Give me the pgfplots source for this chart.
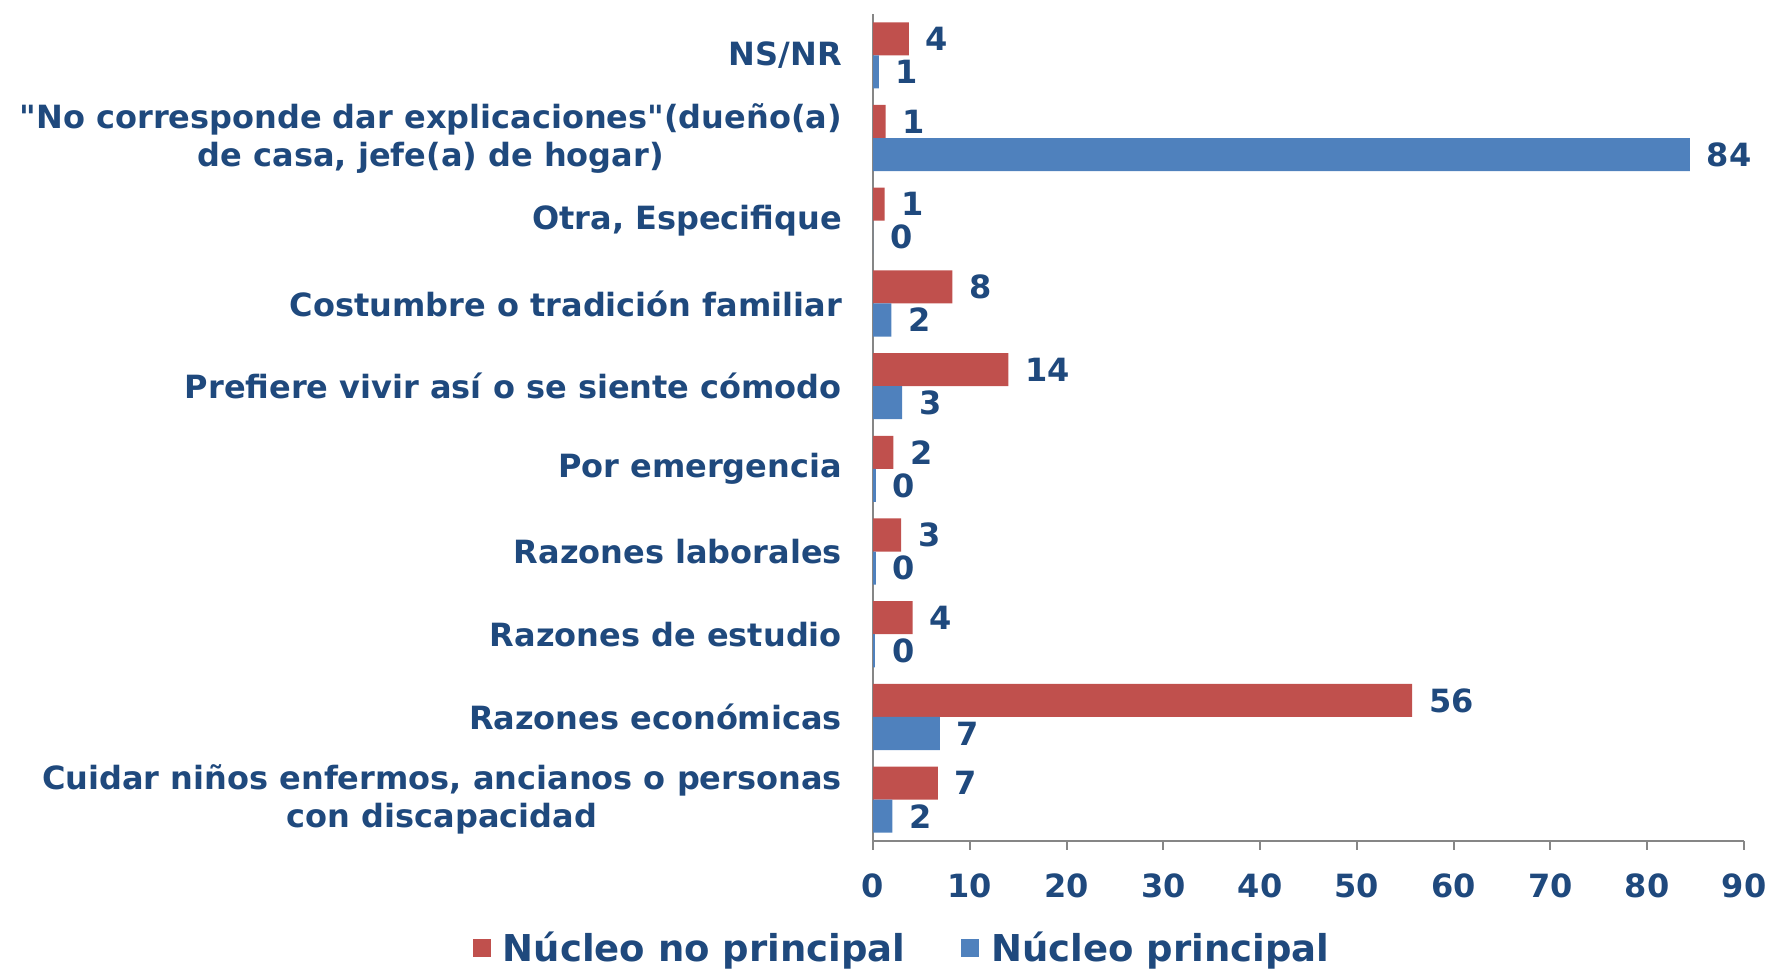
\documentclass[border=0pt]{standalone}
\usepackage{pgfplots}
\pgfplotsset{compat=1.18}
\usepackage{fontspec}
\setmainfont{DejaVu Sans}[Ligatures=TeXOff]
\definecolor{cred}{HTML}{C0504D}
\definecolor{cblue}{HTML}{4F81BD}
\definecolor{ctext}{HTML}{1F497D}
\definecolor{caxis}{HTML}{868686}
\begin{document}
\begin{tikzpicture}
\path[use as bounding box] (0pt,0pt) rectangle (885pt,484pt);
\begin{axis}[
  at={(436.5pt,63.5pt)}, anchor=south west,
  scale only axis, width=435.5pt, height=413.5pt,
  xbar, bar width=0.4,
  xmin=0, xmax=90, ymin=-0.5, ymax=9.5,
  axis x line*=bottom, axis y line*=left,
  axis line style={caxis, line width=1pt},
  xtick={0,10,...,90},
  ytick={0,...,9},
  yticklabels={{Cuidar niños enfermos, ancianos o personas\\con discapacidad},
    Razones económicas, Razones de estudio, Razones laborales, Por emergencia,
    Prefiere vivir así o se siente cómodo, Costumbre o tradición familiar,
    {Otra, Especifique}, {"No corresponde dar explicaciones"(dueño(a)\\de casa, jefe(a) de hogar)}, NS/NR},
  extra y ticks={-0.5,0.5,...,9.5},
  extra y tick labels={},
  extra y tick style={major tick length=4.5pt, tick style={caxis, line width=1pt}, tick align=outside},
  y tick style={draw=none},
  x tick style={caxis, line width=1pt},
  major tick length=4.5pt, tick align=outside,
  /pgf/number format/assume math mode=true,
  yticklabel style={font=\fontsize{16}{19}\selectfont\bfseries, text=ctext, align=center, xshift=-7.5pt},
  xticklabel style={font=\fontsize{16}{19}\selectfont\bfseries, text=ctext, yshift=-8.5pt},
  nodes near coords,
  nodes near coords style={font=\fontsize{16}{19}\selectfont\bfseries, text=ctext, /pgf/number format/fixed, /pgf/number format/precision=0, xshift=5pt},
  legend style={at={(0.0344,-0.1294)}, anchor=center, draw=none, legend columns=2,
    font=\fontsize{18.5}{22}\selectfont\bfseries, text=ctext,
    /tikz/every odd column/.append style={column sep=4pt},
    /tikz/every even column/.append style={column sep=26pt}},
  legend image code/.code={\fill (0pt,-4.5pt) rectangle (9pt,4.5pt);},
  clip=false,
]
\addplot[fill=cred, draw=none, bar shift=0.2] coordinates {
(6.7,0) (55.7,1) (4.1,2) (2.9,3) (2.1,4) (14.0,5) (8.2,6) (1.2,7) (1.3,8) (3.7,9)};
\addlegendentry{Núcleo no principal}
\addplot[fill=cblue, draw=none, bar shift=-0.2] coordinates {
(2.0,0) (6.9,1) (0.2,2) (0.3,3) (0.3,4) (3.0,5) (1.9,6) (0,7) (84.4,8) (0.6,9)};
\addlegendentry{Núcleo principal}
\end{axis}
\end{tikzpicture}
\end{document}
